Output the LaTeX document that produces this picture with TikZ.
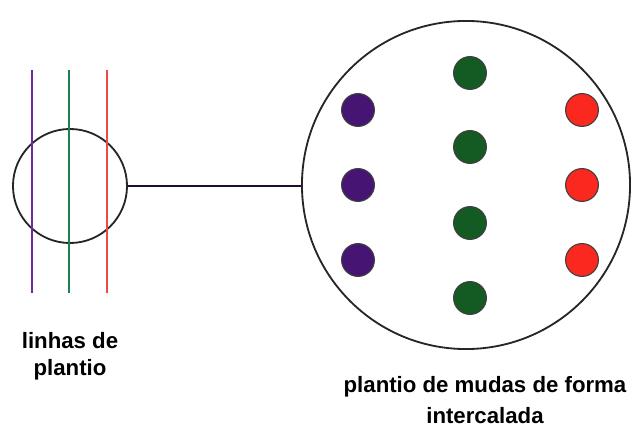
\documentclass[tikz,border=0pt]{standalone}
\usepackage{fontspec}
\setmainfont{Liberation Sans}
\usepackage{tikz}
\usetikzlibrary{positioning}

\definecolor{lroxo}{RGB}{110,40,160}
\definecolor{lverde}{RGB}{30,130,80}
\definecolor{lverm}{RGB}{240,70,70}
\definecolor{droxo}{RGB}{70,20,115}
\definecolor{dverde}{RGB}{20,90,35}
\definecolor{dverm}{RGB}{250,40,30}

\begin{document}
\begin{tikzpicture}[x=0.025cm, y=-0.025cm,
  ring/.style={draw=black!85, circle, line width=1.3pt, inner sep=0pt},
  muda/.style={circle, draw=black!75, line width=0.8pt, fill=#1, minimum size=0.82cm, inner sep=0pt},
  linha/.style={line width=1.1pt, draw=#1},
  elo/.style={line width=2pt, draw=black!70!lroxo},
  rotulo/.style={align=center, font=\bfseries\fontsize{15.8}{#1}\selectfont}
]
\useasboundingbox (0,0) rectangle (632,427);
% lupa sobre as linhas
\node[ring, minimum size=2.85cm] (lupa) at (70,186) {};
\draw[linha=lroxo]  (32,70) -- (32,293);
\draw[linha=lverde] (69,70) -- (69,293);
\draw[linha=lverm]  (107,70) -- (107,293);
% area ampliada
\node[ring, minimum size=8.2cm] (area) at (466,185) {};
\draw[elo] (lupa.east) -- (area.west |- lupa.east);
\foreach \y [count=\i] in {110,185,260} {
  \node[muda=droxo] (roxo\i) at (358,\y) {};
  \node[muda=dverm] (verm\i) at (582,\y) {};
}
\foreach \y [count=\i] in {73,147,223,298}
  \node[muda=dverde] (verde\i) at (470,\y) {};
% rotulos
\node[rotulo=19] (linhas) at (70,356) {linhas de\\plantio};
\node[rotulo=21.5] (mudas) at (485,400) {plantio de mudas de forma\\intercalada};
\end{tikzpicture}
\end{document}
